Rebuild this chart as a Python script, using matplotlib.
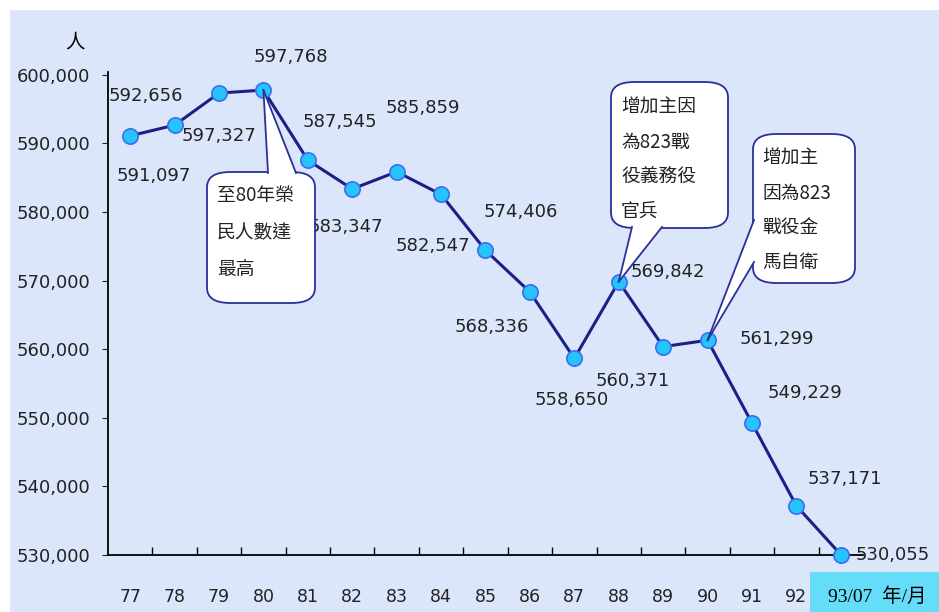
import matplotlib
matplotlib.use("Agg")
import matplotlib.pyplot as plt
from matplotlib.patches import FancyBboxPatch, Polygon, Rectangle
from matplotlib.ticker import FuncFormatter, FixedLocator

plt.rcParams['font.family'] = ['DejaVu Sans', 'Noto Sans CJK TC']

# data
years = ['77', '78', '79', '80', '81', '82', '83', '84', '85', '86',
         '87', '88', '89', '90', '91', '92', '93/07']
people = [591097, 592656, 597327, 597768, 587545, 583347, 585859, 582547,
          574406, 568336, 558650, 569842, 560371, 561299, 549229, 537171, 530055]
# label offsets in pixels (dx, dy up)
label_off = [(24, -40), (-29, 29), (0, -43), (27, 33), (32, 38), (-6, -38),
             (26, 64), (-8, -52), (35, 38), (-38, -35), (-3, -42), (49, 10),
             (-30, -34), (69, 1), (53, 30), (48, 27), (52, 0)]

notes = [
    (3, "至80年榮\n民人數達\n最高"),
    (11, "增加主因\n為823戰\n役義務役\n官兵"),
    (13, "增加主\n因為823\n戰役金\n馬自衛"),
]

W, H = 939, 612
fig = plt.figure(figsize=(W / 100, H / 100), dpi=100, facecolor='white')


def fx(x):
    return x / W


def fy(y):
    return 1 - y / H


# light blue backdrop
fig.patches.append(Rectangle((fx(10), 0), 1 - fx(10), fy(10), transform=fig.transFigure,
                             facecolor='#dce6fa', edgecolor='none', zorder=-5))

ax = fig.add_axes([fx(108), fy(555), fx(863) - fx(108), fy(72) - fy(555)])
ax.set_zorder(1)
ax.set_facecolor('none')
x = list(range(len(years)))
ax.plot(x, people, color='#1c1f86', lw=2.2, zorder=3, clip_on=False,
        marker='o', markersize=11, markerfacecolor='#26c4fa', markeredgecolor='#3a6ef0',
        markeredgewidth=1.2)
ax.set_xlim(-0.5, len(years) - 0.5)
ax.set_ylim(530000, 600400)

for s in ['top', 'right']:
    ax.spines[s].set_visible(False)
ax.spines['left'].set_linewidth(1.3)
ax.spines['bottom'].set_linewidth(1.3)

ax.yaxis.set_major_locator(FixedLocator(range(530000, 600001, 10000)))
ax.yaxis.set_major_formatter(FuncFormatter(lambda v, p: f"{int(v):,}"))
ax.tick_params(axis='y', direction='out', length=4, pad=9, labelsize=13, colors='#222222')
ax.set_xticks(x)
ax.set_xticklabels(years[:-1] + [''])
ax.tick_params(axis='x', length=0, pad=24, labelsize=12.5, colors='#222222')
ax.set_xticks([i + 0.5 for i in x[:-1]], minor=True)
ax.tick_params(axis='x', which='minor', direction='in', length=6, width=1)

for i, v in enumerate(people):
    dx, dy = label_off[i]
    ax.annotate(f"{v:,}", (i, v), xytext=(dx * 0.72, dy * 0.72), textcoords='offset points',
                ha='center', va='center', fontsize=13, color='#222222', zorder=5,
                annotation_clip=False)

fig.text(fx(75), fy(42), "人", family=['Noto Sans CJK TC'], fontsize=14, ha='center', va='center')

# callout boxes: (left, top, right, bottom), tail base points, text pos, line spacing
boxes = [
    ((207, 172, 315, 303), [(268, 173), (296, 173)], (217, 185), 2.0),
    ((611, 82, 728, 228), [(632, 227), (662, 227)], (621, 97), 1.85),
    ((753, 134, 855, 283), [(754, 220), (754, 262)], (762, 148), 1.85),
]
fig.canvas.draw()
to_fig = fig.transFigure.inverted()
for (idx, txt), (bb, base, tpos, ls) in zip(notes, boxes):
    l, t, r, b = bb
    box = FancyBboxPatch((fx(l), fy(b)), fx(r) - fx(l), fy(t) - fy(b),
                         boxstyle="round,pad=0,rounding_size=0.025",
                         transform=fig.transFigure, facecolor='white',
                         edgecolor='#2a2f9a', lw=1.3, zorder=6)
    fig.patches.append(box)
    apex = to_fig.transform(ax.transData.transform((idx, people[idx])))
    p1 = (fx(base[0][0]), fy(base[0][1]))
    p2 = (fx(base[1][0]), fy(base[1][1]))
    tail = Polygon([p1, tuple(apex), p2], closed=True, transform=fig.transFigure,
                   facecolor='white', edgecolor='none', zorder=7)
    fig.patches.append(tail)
    for p in (p1, p2):
        fig.lines.append(plt.Line2D([p[0], apex[0]], [p[1], apex[1]], transform=fig.transFigure,
                                    color='#2a2f9a', lw=1.3, zorder=8))
    fig.text(fx(tpos[0]), fy(tpos[1]), txt, family=['Noto Sans CJK TC', 'DejaVu Sans'],
             fontsize=13.5, linespacing=ls, ha='left', va='top', color='#222222', zorder=9)

# last category tag
fig.patches.append(Rectangle((fx(810), 0), 1 - fx(810), fy(572), transform=fig.transFigure,
                             facecolor='#66ddf8', edgecolor='none', zorder=6))
fig.text(fx(877), fy(597), "93/07  年/月", family=['Liberation Serif', 'Noto Sans CJK TC'],
         fontsize=14, ha='center', va='center', color='black', zorder=9)

fig.savefig('out.png', dpi=100, facecolor='white')
